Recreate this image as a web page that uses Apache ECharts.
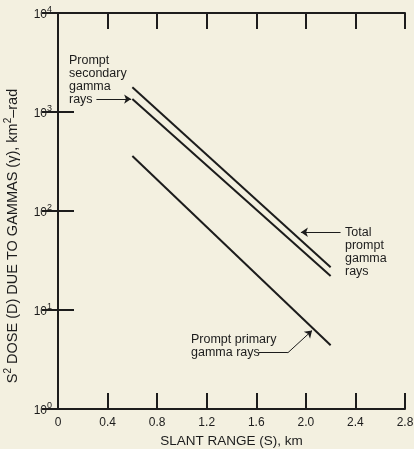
<!DOCTYPE html>
<html><head><meta charset="utf-8">
<script src="https://cdn.jsdelivr.net/npm/echarts@6/dist/echarts.min.js"></script>
<style>html,body{margin:0;padding:0;background:#f3f0e0;}#c{width:414px;height:449px;}</style>
</head><body><div id="c"></div>
<script>
const xTicks = [0, 0.4, 0.8, 1.2, 1.6, 2.0, 2.4, 2.8];
const yTickExponents = [0, 1, 2, 3, 4];
const totalPrompt = [[0.6, 1780], [2.2, 27]];
const secondaryPrompt = [[0.6, 1350], [2.2, 22]];
const primaryPrompt = [[0.6, 360], [2.2, 4.4]];

const ink = '#1c1c1c';
const font = 'Liberation Sans';
const chart = echarts.init(document.getElementById('c'));

function lineSeries(name, data) {
  return { name, type: 'line', data, symbol: 'none', xAxisIndex: 0, yAxisIndex: 0,
    lineStyle: { color: ink, width: 2 }, animation: false };
}
const tickStyle = { inside: true, length: 16, lineStyle: { color: ink, width: 2 } };
const lineStyleAx = { show: true, lineStyle: { color: ink, width: 2 } };

const series = [
  lineSeries('Total prompt gamma rays', totalPrompt),
  lineSeries('Prompt secondary gamma rays', secondaryPrompt),
  lineSeries('Prompt primary gamma rays', primaryPrompt)
];
// annotation leader lines
series.push({
  type: 'line', data: [], xAxisIndex: 0, yAxisIndex: 0, animation: false,
  markLine: { silent: true, symbol: ['none', 'arrow'], symbolSize: 7, label: { show: false },
    lineStyle: { color: ink, width: 1, type: 'solid' },
    data: [
      [{ coord: [0.31, 1350] }, { coord: [0.59, 1350] }],
      [{ coord: [2.28, 61] }, { coord: [1.96, 61] }],
      [{ coord: [1.855, 3.7] }, { coord: [2.05, 6.2] }]
    ] }
});
series.push({
  type: 'line', data: [], xAxisIndex: 0, yAxisIndex: 0, animation: false,
  markLine: { silent: true, symbol: ['none', 'none'], label: { show: false },
    lineStyle: { color: ink, width: 1, type: 'solid' },
    data: [
      [{ coord: [1.62, 3.7] }, { coord: [1.855, 3.7] }]
    ] }
});

chart.setOption({
  backgroundColor: '#f3f0e0',
  animation: false,
  textStyle: { fontFamily: font },
  grid: { left: 58, right: 9, top: 13, bottom: 40, outerBoundsMode: 'none', containLabel: false },
  xAxis: [{
    type: 'value', min: 0, max: 2.8, interval: 0.4,
    name: 'SLANT RANGE (S), km', nameLocation: 'middle', nameGap: 23,
    nameTextStyle: { color: ink, fontSize: 13.5, fontFamily: font },
    axisLine: lineStyleAx, axisTick: tickStyle, splitLine: { show: false },
    axisLabel: { color: ink, fontSize: 12, fontFamily: font, margin: 8,
      formatter: v => { const t = xTicks.find(t => Math.abs(t - v) < 1e-6); return t === undefined ? '' : (t === 0 ? '0' : t.toFixed(1)); } }
  }, {
    type: 'value', position: 'top', min: 0, max: 2.8, interval: 0.4,
    axisLine: lineStyleAx, axisTick: tickStyle, axisLabel: { show: false }, splitLine: { show: false }
  }],
  yAxis: [{
    type: 'log', logBase: 10, min: 1, max: 10000,
    name: '{n|S}{s|2}{n| DOSE (D) DUE TO GAMMAS (γ), km}{s|2}{n|–rad}',
    nameLocation: 'middle', nameGap: 38, nameRotate: 90,
    nameTextStyle: { color: ink, fontFamily: font, padding: [0, 50, 0, 0],
      rich: { n: { fontSize: 14.5, color: ink, fontFamily: font, verticalAlign: 'bottom' },
              s: { fontSize: 10, color: ink, fontFamily: font, verticalAlign: 'top', padding: [0, 0, 7, 0] } } },
    axisLine: lineStyleAx, axisTick: tickStyle, splitLine: { show: false }, minorTick: { show: false },
    axisLabel: { color: ink, margin: 6,
      formatter: v => { const e = Math.round(Math.log10(v)); return yTickExponents.includes(e) ? '{b|10}{s|' + e + '}' : ''; },
      rich: { b: { fontSize: 12, color: ink, fontFamily: font, verticalAlign: 'bottom' },
              s: { fontSize: 9, color: ink, fontFamily: font, verticalAlign: 'top', padding: [0, 0, 6, 0] } } }
  }, {
    type: 'log', logBase: 10, min: 1, max: 10000, position: 'right',
    axisLine: lineStyleAx, axisTick: tickStyle, axisLabel: { show: false }, splitLine: { show: false }
  }],
  graphic: [
    { type: 'text', left: 69, top: 54, style: { text: 'Prompt\nsecondary\ngamma\nrays', fill: ink, fontSize: 12.5, fontFamily: font, lineHeight: 13 } },
    { type: 'text', left: 345, top: 226, style: { text: 'Total\nprompt\ngamma\nrays', fill: ink, fontSize: 12.5, fontFamily: font, lineHeight: 13 } },
    { type: 'text', left: 191, top: 333, style: { text: 'Prompt primary\ngamma rays', fill: ink, fontSize: 12.5, fontFamily: font, lineHeight: 13 } }
  ],
  series
});
</script></body></html>
